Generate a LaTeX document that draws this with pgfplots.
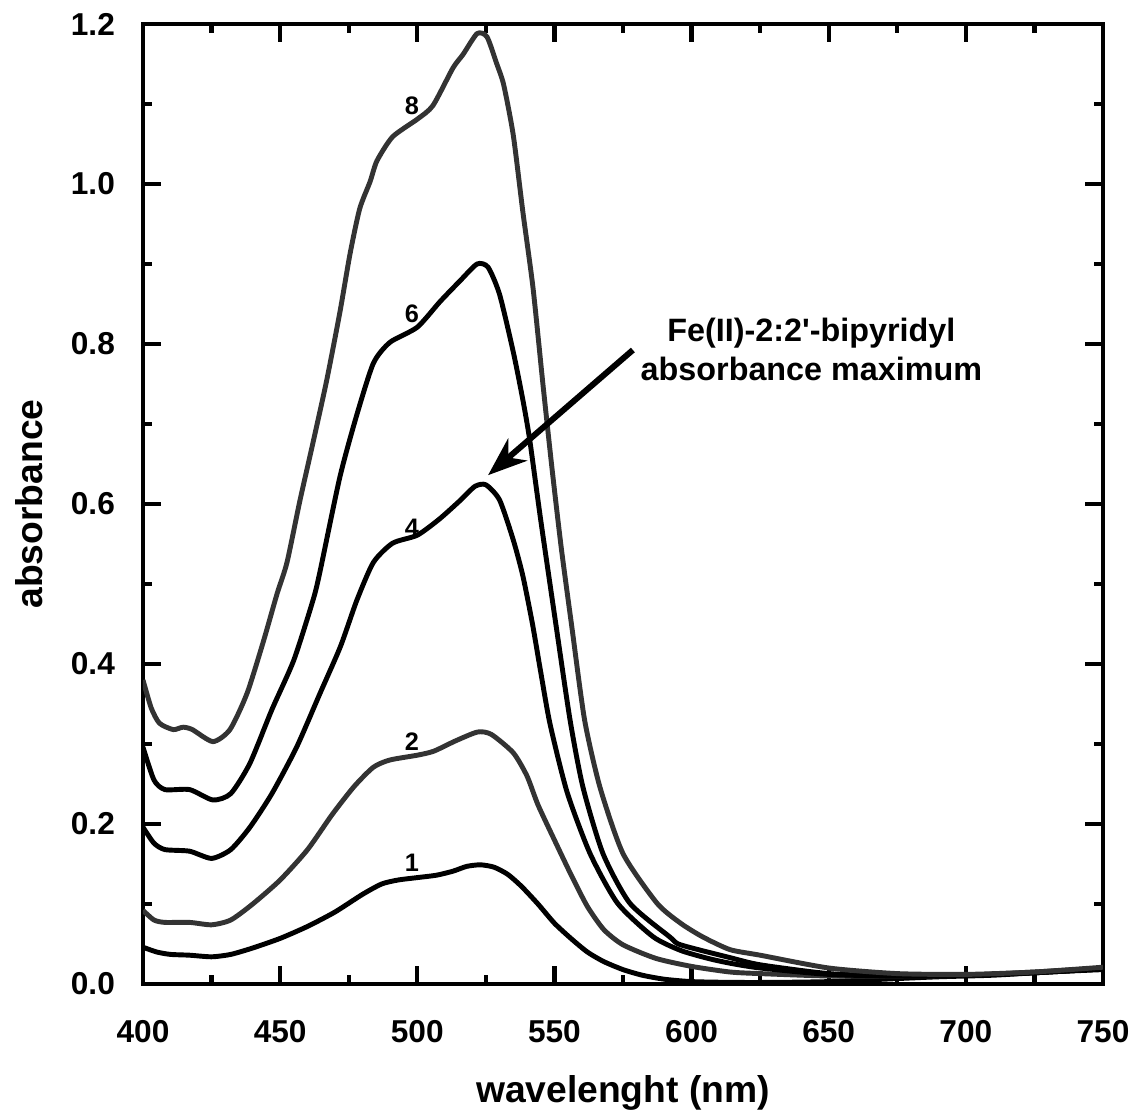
\documentclass[border=0pt]{standalone}
\usepackage{fontspec}
\setmainfont{Liberation Sans}
\usepackage{pgfplots}
\pgfplotsset{compat=1.18}
\usetikzlibrary{arrows.meta}

\definecolor{darkcurve}{HTML}{333333}

\begin{document}
\begin{tikzpicture}
\begin{axis}[
    name=ax,
    scale only axis, width=96mm, height=96mm,
    xmin=400, xmax=750, ymin=0, ymax=1.2,
    xtick={400,450,500,550,600,650,700,750},
    ytick={0,0.2,0.4,0.6,0.8,1.0,1.2},
    minor x tick num=1, minor y tick num=1,
    tick align=inside,
    major tick length=1.8mm, minor tick length=0.9mm,
    axis line style={line width=1.3pt},
    tick style={line width=1.2pt, black},
    /pgf/number format/assume math mode=true,
    ticklabel style={font=\fontsize{9}{10}\selectfont\bfseries},
    xticklabel style={yshift=-2.37mm},
    yticklabel style={xshift=-1.57mm, /pgf/number format/.cd, fixed, fixed zerofill, precision=1},
    xlabel={wavelenght (nm)},
    ylabel={absorbance},
    xlabel style={at={(axis description cs:0.5,-0.1236)}, anchor=base, font=\fontsize{10.6}{12}\selectfont\bfseries},
    ylabel style={at={(axis description cs:-0.1052,0.5)}, anchor=base, font=\fontsize{10.6}{12}\selectfont\bfseries},
    every axis plot/.append style={line width=1.4pt, line join=round, smooth, tension=0.4},
    clip=true,
  ]

  % curve 1
  \addplot[black] table {
    400 0.046
    405 0.040
    410 0.037
    417 0.036
    425 0.034
    432 0.037
    440 0.045
    450 0.057
    460 0.072
    470 0.090
    480 0.112
    487 0.125
    493 0.130
    500 0.133
    507 0.136
    513 0.141
    518 0.147
    523 0.149
    528 0.146
    533 0.137
    538 0.122
    544 0.100
    550 0.076
    556 0.057
    562 0.040
    568 0.028
    575 0.018
    582 0.011
    590 0.006
    600 0.003
    615 0.002
    630 0.002
    650 0.003
    670 0.006
    690 0.009
    710 0.011
    730 0.015
    750 0.018
  };

  % curve 2
  \addplot[darkcurve] table {
    400 0.092
    404 0.080
    408 0.077
    417 0.077
    425 0.074
    432 0.080
    440 0.100
    450 0.130
    460 0.168
    469 0.212
    477 0.247
    484 0.271
    490 0.280
    500 0.286
    506 0.291
    514 0.304
    522 0.315
    527 0.312
    535 0.289
    540 0.260
    544 0.224
    550 0.180
    556 0.137
    562 0.097
    568 0.068
    575 0.049
    587 0.032
    600 0.022
    614 0.015
    625 0.013
    650 0.010
    680 0.010
    700 0.011
    725 0.015
    750 0.020
  };

  % curve 4
  \addplot[black] table {
    400 0.196
    404 0.176
    408 0.168
    417 0.166
    425 0.157
    432 0.168
    439 0.196
    447 0.238
    456 0.296
    464.5 0.363
    472 0.422
    478 0.480
    484 0.527
    491 0.551
    500 0.561
    508 0.581
    515.5 0.604
    521 0.622
    525 0.624
    530 0.605
    535 0.555
    538.5 0.510
    542 0.450
    545 0.390
    548.4 0.325
    554.6 0.240
    563 0.163
    573 0.101
    586 0.059
    596 0.042
    606 0.032
    614 0.026
    625 0.020
    650 0.012
    675 0.010
    700 0.011
    725 0.014
    750 0.019
  };

  % curve 6
  \addplot[black] table {
    400 0.296
    404 0.255
    408 0.243
    417 0.243
    425.5 0.230
    432 0.238
    439 0.276
    447 0.343
    455 0.405
    462 0.480
    464.5 0.515
    471.8 0.634
    478 0.712
    484 0.776
    490 0.802
    500 0.821
    508.3 0.853
    515.6 0.879
    521.8 0.900
    525.8 0.896
    530 0.862
    535 0.790
    538.5 0.730
    541 0.680
    545 0.580
    550.3 0.455
    555.7 0.330
    560.4 0.246
    567.7 0.163
    577.5 0.101
    592 0.059
    596 0.049
    614 0.033
    625 0.024
    650 0.013
    675 0.010
    700 0.011
    725 0.014
    750 0.019
  };

  % curve 8
  \addplot[darkcurve] table {
    400 0.380
    403 0.345
    406 0.326
    411 0.318
    414.6 0.321
    418 0.318
    425.5 0.303
    431.7 0.318
    437.9 0.363
    443.7 0.426
    448.9 0.488
    452.5 0.527
    457.2 0.604
    462 0.677
    467 0.755
    471.8 0.840
    475.5 0.913
    479 0.969
    482.8 1.003
    485.3 1.029
    491 1.059
    500 1.081
    505.7 1.098
    513 1.145
    516.7 1.162
    521.8 1.188
    525.4 1.184
    529 1.150
    531.5 1.124
    535 1.061
    538.5 0.965
    542.2 0.870
    545.8 0.750
    549.1 0.645
    552.5 0.545
    556.4 0.445
    561 0.330
    566.6 0.246
    575 0.163
    587.4 0.101
    596 0.076
    604 0.059
    614 0.043
    625 0.036
    650 0.020
    675 0.013
    700 0.012
    725 0.015
    750 0.021
  };

  % curve numbers
  \begin{scope}[font=\fontsize{7.2}{8}\selectfont\bfseries]
    \node at (axis cs:498,0.151) {1};
    \node at (axis cs:498,0.303) {2};
    \node at (axis cs:498,0.570) {4};
    \node at (axis cs:498,0.838) {6};
    \node at (axis cs:498,1.098) {8};
  \end{scope}

  % annotation
  \draw[line width=1.7pt, -{Stealth[length=3.9mm, width=2.9mm, inset=1.2mm]}]
    (axis cs:578.6,0.7925) -- (axis cs:525.8,0.636);
  \node[anchor=base, font=\fontsize{9.2}{11}\selectfont\bfseries]
    at (axis cs:643.7,0.8025) {Fe(II)-2:2\textquotesingle-bipyridyl};
  \node[anchor=base, font=\fontsize{9.2}{11}\selectfont\bfseries]
    at (axis cs:643.7,0.755) {absorbance maximum};
\end{axis}
\pgfresetboundingbox
\path[use as bounding box] ([shift={(-14.3mm,-13.0mm)}]ax.south west)
  rectangle ([shift={(99.1mm,98.4mm)}]ax.south west);
\end{tikzpicture}
\end{document}
